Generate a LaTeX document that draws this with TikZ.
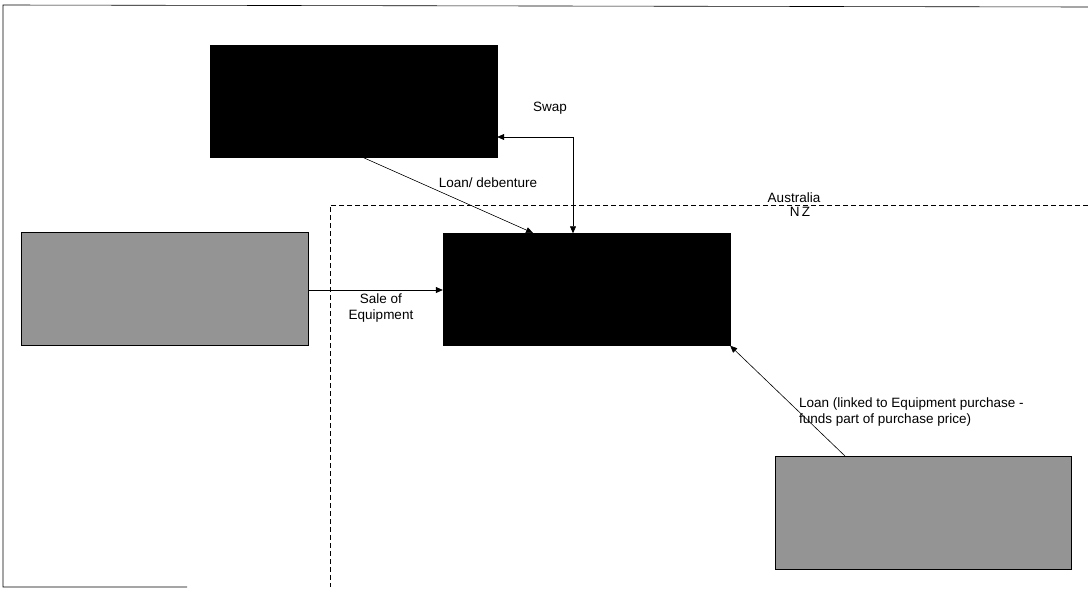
\documentclass[tikz,border=0pt]{standalone}
\usepackage{fontspec}
\setmainfont{Liberation Sans}
\usetikzlibrary{arrows.meta,positioning}

\begin{document}
\begin{tikzpicture}[x=1pt, y=-1pt,
  blackbox/.style={draw=black, fill=black, minimum width=287pt, minimum height=112pt, inner sep=0pt},
  greybox/.style={draw=black, thick, fill=black!42, minimum width=287pt, minimum height=113pt, inner sep=0pt},
  flow/.style={-{Triangle[length=7pt, width=6pt]}, semithick},
  lab/.style={font=\fontsize{13.5}{15.5}\selectfont, inner sep=1pt}]
  \useasboundingbox (0,0) rectangle (1088,589);

  % Frame
  \draw[semithick] (1088,7) -- (3,5) -- (3,587) -- (187,587);

  % Border Australia / NZ
  \draw[dash pattern=on 5pt off 3pt, semithick] (1088,205) -- (330,205) -- (330,587);
  \node[lab, above] (aus) at (794,204) {Australia};
  \node[lab, below] (nz) at (800,206) {N\,Z};

  % Parties
  \node[blackbox] (lender) at (353.5,101) {};
  \node[blackbox] (borrower) at (586.5,289.5) {};
  \node[greybox] (vendor) at (164.5,288.5) {};
  \node[greybox, minimum width=296pt] (financier) at (923,512.5) {};

  % Flows
  \coordinate (swapcorner) at (573,137);
  \draw[flow, {Triangle[length=7pt, width=6pt]}-{Triangle[length=7pt, width=6pt]}]
    (lender.east |- swapcorner) -- (swapcorner) -- (swapcorner |- borrower.north);
  \node[lab] (swap) at (550,108) {Swap};

  \draw[flow] (362,157) -- (533,233);
  \node[lab] (loan) at (488,183) {Loan/ debenture};

  \draw[flow] (vendor.east |- 0,290) -- (borrower.west |- 0,290);
  \node[lab, align=center] (sale) at (381,308) {Sale of\\Equipment};

  \draw[flow] (845,456) -- (borrower.south east);
  \node[lab, align=left, anchor=west] (link) at (798,412)
    {Loan (linked to Equipment purchase -\\funds part of purchase price)};
\end{tikzpicture}
\end{document}
